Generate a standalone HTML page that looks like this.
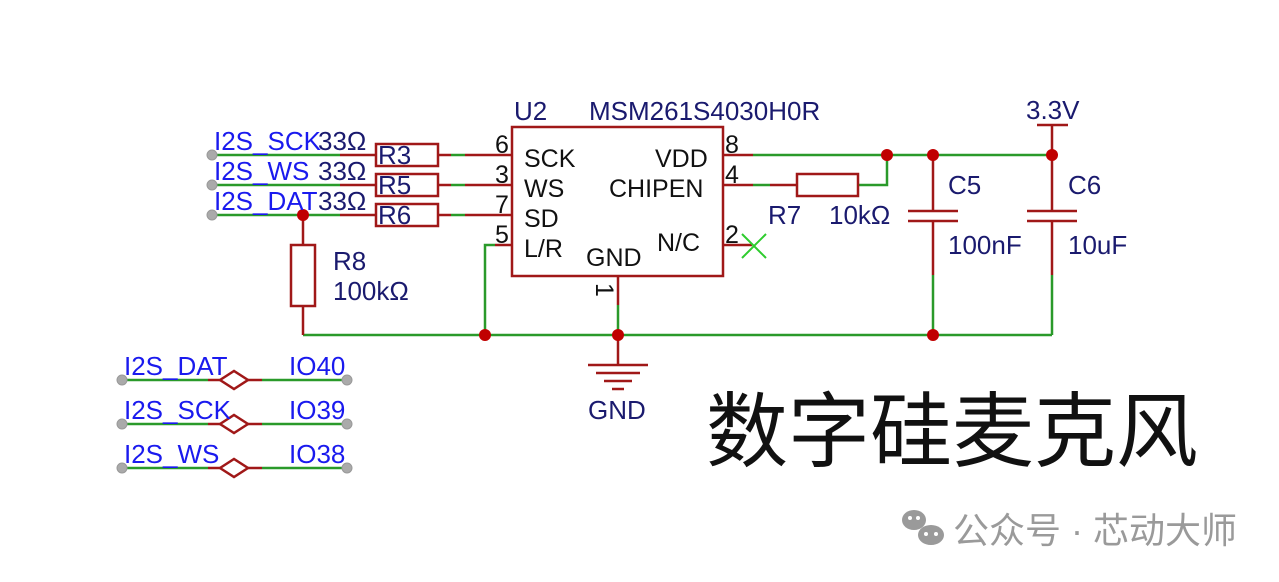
<!DOCTYPE html>
<html><head><meta charset="utf-8"><style>
html,body{margin:0;padding:0;background:#fff;width:1279px;height:582px;overflow:hidden}
svg text{font-family:"Liberation Sans","Noto Sans CJK SC",sans-serif}
</style></head><body>
<svg width="1279" height="582" viewBox="0 0 1279 582" xmlns="http://www.w3.org/2000/svg">
<g fill="none" stroke-width="2.5">
<g stroke="#2a9a2a">
<line x1="212" y1="155" x2="340" y2="155"/>
<line x1="212" y1="185" x2="340" y2="185"/>
<line x1="212" y1="215" x2="340" y2="215"/>
<line x1="451" y1="155" x2="465" y2="155"/>
<line x1="451" y1="185" x2="465" y2="185"/>
<line x1="451" y1="215" x2="465" y2="215"/>
<polyline points="485,335 485,245 495,245"/>
<line x1="303" y1="335" x2="1052" y2="335"/>
<line x1="618" y1="305" x2="618" y2="335"/>
<line x1="753" y1="155" x2="1052" y2="155"/>
<line x1="753" y1="185" x2="770" y2="185"/>
<polyline points="858,185 887,185 887,155"/>
<line x1="933" y1="275" x2="933" y2="335"/>
<polyline points="1052,275 1052,335"/>
</g>
<g stroke="#a01818">
<line x1="340" y1="155" x2="376" y2="155"/><line x1="438" y1="155" x2="451" y2="155"/><line x1="465" y1="155" x2="512" y2="155"/>
<line x1="340" y1="185" x2="376" y2="185"/><line x1="438" y1="185" x2="451" y2="185"/><line x1="465" y1="185" x2="512" y2="185"/>
<line x1="340" y1="215" x2="376" y2="215"/><line x1="438" y1="215" x2="451" y2="215"/><line x1="465" y1="215" x2="512" y2="215"/>
<line x1="495" y1="245" x2="512" y2="245"/>
<rect x="376" y="144" width="62" height="22"/>
<rect x="376" y="174" width="62" height="22"/>
<rect x="376" y="204" width="62" height="22"/>
<rect x="512" y="127" width="211" height="149"/>
<line x1="303" y1="215" x2="303" y2="245"/><rect x="291" y="245" width="24" height="61"/><line x1="303" y1="306" x2="303" y2="335"/>
<line x1="618" y1="276" x2="618" y2="305"/>
<line x1="618" y1="335" x2="618" y2="365"/>
<line x1="588" y1="365" x2="648" y2="365"/><line x1="596" y1="373" x2="640" y2="373"/><line x1="604" y1="381" x2="632" y2="381"/><line x1="612" y1="389" x2="624" y2="389"/>
<line x1="723" y1="155" x2="753" y2="155"/>
<line x1="723" y1="185" x2="753" y2="185"/><line x1="770" y1="185" x2="797" y2="185"/>
<rect x="797" y="174" width="61" height="22"/>
<line x1="723" y1="245" x2="752" y2="245"/>
<line x1="933" y1="155" x2="933" y2="211"/><line x1="908" y1="211" x2="958" y2="211"/><line x1="908" y1="221" x2="958" y2="221"/><line x1="933" y1="221" x2="933" y2="275"/>
<line x1="1052" y1="125" x2="1052" y2="211"/><line x1="1027" y1="211" x2="1077" y2="211"/><line x1="1027" y1="221" x2="1077" y2="221"/><line x1="1052" y1="221" x2="1052" y2="275"/>
<line x1="1037" y1="125" x2="1068" y2="125"/>
</g>
<g stroke="#2ecc2e" stroke-width="2"><line x1="742" y1="234" x2="766" y2="258"/><line x1="742" y1="258" x2="766" y2="234"/></g>
<g>
<line x1="122" y1="380" x2="208" y2="380" stroke="#2a9a2a"/><line x1="262" y1="380" x2="347" y2="380" stroke="#2a9a2a"/>
<line x1="208" y1="380" x2="262" y2="380" stroke="#a01818"/>
<polygon points="220,380 234,371 248,380 234,389" fill="#fff" stroke="#a01818"/>
<line x1="122" y1="424" x2="208" y2="424" stroke="#2a9a2a"/><line x1="262" y1="424" x2="347" y2="424" stroke="#2a9a2a"/>
<line x1="208" y1="424" x2="262" y2="424" stroke="#a01818"/>
<polygon points="220,424 234,415 248,424 234,433" fill="#fff" stroke="#a01818"/>
<line x1="122" y1="468" x2="208" y2="468" stroke="#2a9a2a"/><line x1="262" y1="468" x2="347" y2="468" stroke="#2a9a2a"/>
<line x1="208" y1="468" x2="262" y2="468" stroke="#a01818"/>
<polygon points="220,468 234,459 248,468 234,477" fill="#fff" stroke="#a01818"/>
</g>
</g>
<g fill="#aaa" stroke="#999" stroke-width="1">
<circle cx="212" cy="155" r="5"/><circle cx="212" cy="185" r="5"/><circle cx="212" cy="215" r="5"/>
<circle cx="122" cy="380" r="5"/><circle cx="347" cy="380" r="5"/>
<circle cx="122" cy="424" r="5"/><circle cx="347" cy="424" r="5"/>
<circle cx="122" cy="468" r="5"/><circle cx="347" cy="468" r="5"/>
</g>
<g fill="#c00000">
<circle cx="303" cy="215" r="6"/><circle cx="485" cy="335" r="6"/><circle cx="618" cy="335" r="6"/>
<circle cx="887" cy="155" r="6"/><circle cx="933" cy="155" r="6"/><circle cx="1052" cy="155" r="6"/><circle cx="933" cy="335" r="6"/>
</g>
<g font-size="26" fill="#1a1aee">
<text x="214" y="150">I2S_SCK</text><text x="214" y="180">I2S_WS</text><text x="214" y="210">I2S_DAT</text>
<text x="124" y="375">I2S_DAT</text><text x="124" y="419">I2S_SCK</text><text x="124" y="463">I2S_WS</text>
<text x="289" y="375">IO40</text><text x="289" y="419">IO39</text><text x="289" y="463">IO38</text>
</g>
<g font-size="26" fill="#1a1a6e">
<text x="318" y="150">33Ω</text><text x="318" y="180">33Ω</text><text x="318" y="210">33Ω</text>
<text x="378" y="164">R3</text><text x="378" y="194">R5</text><text x="378" y="224">R6</text>
<text x="333" y="270">R8</text><text x="333" y="300">100kΩ</text>
<text x="514" y="120">U2</text><text x="589" y="120">MSM261S4030H0R</text>
<text x="588" y="419">GND</text>
<text x="768" y="224">R7</text><text x="829" y="224">10kΩ</text>
<text x="948" y="194">C5</text><text x="948" y="254">100nF</text>
<text x="1068" y="194">C6</text><text x="1068" y="254">10uF</text>
<text x="1026" y="119">3.3V</text>
</g>
<g font-size="25" fill="#111">
<text x="495" y="153">6</text><text x="495" y="183">3</text><text x="495" y="213">7</text><text x="495" y="243">5</text>
<text x="524" y="167">SCK</text><text x="524" y="197">WS</text><text x="524" y="227">SD</text><text x="524" y="257">L/R</text>
<text x="586" y="266">GND</text>
<text x="655" y="167">VDD</text><text x="609" y="197">CHIPEN</text><text x="657" y="251">N/C</text>
<text x="725" y="153">8</text><text x="725" y="183">4</text><text x="725" y="243">2</text>
<text x="0" y="0" transform="translate(596,283) rotate(90)">1</text>
</g>
<text x="706" y="460" font-size="82" fill="#111">数字硅麦克风</text>
<g fill="#9a9a9a">
<ellipse cx="914" cy="520" rx="12" ry="10"/><ellipse cx="931" cy="535" rx="13" ry="10"/>
<circle cx="910" cy="518" r="2" fill="#fff"/><circle cx="918" cy="518" r="2" fill="#fff"/>
<circle cx="926" cy="534" r="2" fill="#fff"/><circle cx="936" cy="534" r="2" fill="#fff"/>
<text x="953" y="543" font-size="36">公众号 · 芯动大师</text>
</g>
</svg>
</body></html>
